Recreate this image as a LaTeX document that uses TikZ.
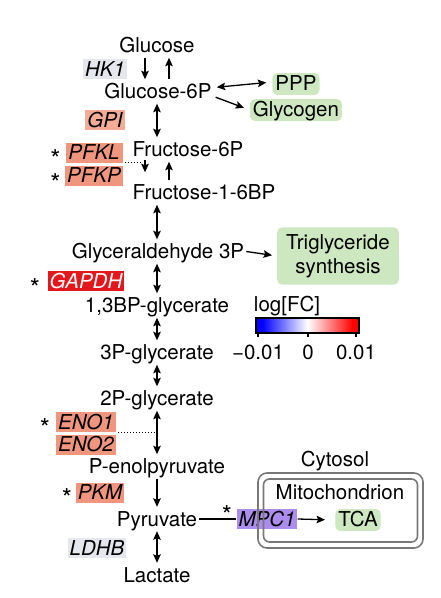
\documentclass[tikz,border=0pt]{standalone}
\usepackage{fontspec}
\setmainfont{TeX Gyre Heros}
\usetikzlibrary{calc,arrows.meta}

\definecolor{pathgreen}{RGB}{205,232,192}
\definecolor{enzgray}{RGB}{230,230,238}
\definecolor{enzup}{RGB}{241,150,126}
\definecolor{enzlight}{RGB}{245,172,150}
\definecolor{enzred}{RGB}{228,24,28}
\definecolor{enzpurple}{RGB}{172,140,236}
\definecolor{cellgray}{RGB}{120,120,120}

\pgfdeclarehorizontalshading{fcbar}{100bp}{rgb(0bp)=(0,0,1); rgb(28bp)=(0,0,1);
  rgb(50bp)=(1,1,1); rgb(72bp)=(1,0,0); rgb(100bp)=(1,0,0)}

\begin{document}
\begin{tikzpicture}[x=1pt,y=-1pt,>={Stealth[length=8.5pt,width=7.5pt,inset=1.5pt]},
  font=\fontsize{20.5}{24}\selectfont,
  met/.style={inner xsep=2pt,inner ysep=4pt,text height=15pt,text depth=1pt},
  enz/.style={inner xsep=2pt,inner ysep=2pt,text height=15pt,text depth=1pt,
    font=\fontsize{20.5}{24}\selectfont\itshape},
  green/.style={fill=pathgreen,rounded corners=5pt},
  tag/.style={green,inner xsep=3pt,inner ysep=2pt,text height=15pt,text depth=3pt},
  sig/.style={inner sep=0pt,font=\fontsize{26}{28}\selectfont},
  rxn/.style={line width=1.3pt}]
\useasboundingbox (0,0) rectangle (440,598);

% arrow columns
\coordinate (xl) at (145,0);
\coordinate (xm) at (157,0);
\coordinate (xr) at (169,0);

% metabolites
\node[met] (glc) at (157,45.5) {Glucose};
\node[met] (g6p) at (158,91.5) {Glucose-6P};
\node[met] (f6p) at (188,149.5) {Fructose-6P};
\node[met] (f16bp) at (204,192.5) {Fructose-1-6BP};
\node[met] (gap) at (158,251.5) {Glyceraldehyde 3P};
\node[met] (bpg) at (157,305.5) {1,3BP-glycerate};
\node[met] (pg3) at (157,352.5) {3P-glycerate};
\node[met] (pg2) at (157,398.5) {2P-glycerate};
\node[met] (pep) at (157,466.5) {P-enolpyruvate};
\node[met] (pyr) at (157,519) {Pyruvate};
\node[met] (lac) at (157,575) {Lactate};

% pathways
\node[tag] (ppp) at (296,84) {PPP};
\node[tag] (glyc) at (296,110) {Glycogen};
\node[green,align=center,inner xsep=9pt,inner ysep=7pt] (trig) at (338,256) {Triglyceride\\synthesis};
\node[tag] (tca) at (358,520) {TCA};

% enzymes
\node[enz,fill=enzgray] (hk1) at (105,69) {HK1};
\node[enz,fill=enzlight] (gpi) at (105,120) {GPI};
\node[enz,fill=enzup,minimum width=57pt] (pfkl) at (94,152.5) {PFKL};
\node[enz,fill=enzup,minimum width=57pt] (pfkp) at (94,175.5) {PFKP};
\node[enz,fill=enzred,text=white] (gapdh) at (86,281) {GAPDH};
\node[enz,fill=enzup,minimum width=58pt] (eno1) at (86,422) {ENO1};
\node[enz,fill=enzup,minimum width=58pt] (eno2) at (86,444.5) {ENO2};
\node[enz,fill=enzup] (pkm) at (100,492.5) {PKM};
\node[enz,fill=enzgray] (ldhb) at (97,548) {LDHB};
\node[enz,fill=enzpurple] (mpc) at (267,519) {MPC1};

% significance
\node[sig] (s1) at (55.5,159) {*};
\node[sig] (s2) at (55.5,183) {*};
\node[sig] (s3) at (35,288) {*};
\node[sig] (s4) at (45,428) {*};
\node[sig] (s5) at (67,498) {*};
\node[sig] (s6) at (227,515) {*};

% glycolysis
\draw[rxn,->] (glc.south -| xl) -- (g6p.north -| xl);
\draw[rxn,<-] (glc.south -| xr) -- (g6p.north -| xr);
\draw[rxn,<->] (g6p.south -| xm) -- (f6p.north -| xm);
\draw[rxn,->,shorten <=-2pt,shorten >=8pt] (f6p.south -| xl) -- (f16bp.north -| xl);
\draw[rxn,->] (f16bp.north -| xr) -- (f6p.south -| xr);
\draw[rxn,<->] (f16bp.south -| xm) -- (gap.north -| xm);
\draw[rxn,<->] (gap.south -| xm) -- (bpg.north -| xm);
\draw[rxn,<->] (bpg.south -| xm) -- (pg3.north -| xm);
\draw[rxn,<->] (pg3.south -| xm) -- (pg2.north -| xm);
\draw[rxn,<->] (pg2.south -| xm) -- (pep.north -| xm);
\draw[rxn,->] (pep.south -| xm) -- (pyr.north -| xm);
\draw[rxn,<->] (pyr.south -| xm) -- (lac.north -| xm);

% branches
\draw[rxn,<->,shorten <=3pt,shorten >=6pt] ([yshift=4pt]g6p.east) -- ([yshift=2pt]ppp.west);
\draw[rxn,->,shorten <=2pt,shorten >=6pt] ([yshift=-5pt]g6p.east) -- (glyc.west);
\draw[rxn,->,shorten >=5pt] (gap.east) -- (trig.west);
\draw[rxn] (pyr.east) -- (mpc.west);
\draw[rxn,->,shorten >=10pt] (mpc.east) -- (tca.west);

% isoforms
\draw[line width=1.3pt,dash pattern=on 1.3pt off 1.7pt,shorten >=4pt]
  ($(pfkl.south east)+(2,0)$) -- (pfkl.south east -| xl);
\draw[line width=1.3pt,dash pattern=on 1.3pt off 1.7pt]
  ($(eno1.south east)+(2,0)$) -- (eno1.south east -| xm);

% compartments
\draw[cellgray,line width=1.6pt,rounded corners=9pt] (258,473) rectangle (423,548);
\draw[cellgray,line width=1.6pt,rounded corners=6pt] (263.5,479) rectangle (417.5,542);
\node (cyto) at (335,461) {Cytosol};
\node (mito) at (340,492) {Mitochondrion};

% colour key
\node (key) at (287,306) {log[FC]};
\shade[shading=fcbar] (256,318) rectangle (359,333);
\draw[line width=1.3pt] (256,318) rectangle (359,333);
\foreach \x/\v in {258/{−0.01},308/0,356/0.01}{
  \draw[line width=1.2pt] (\x,333) -- (\x,337);
  \node[inner sep=0pt] at (\x,352) {\v};
}
\end{tikzpicture}
\end{document}
